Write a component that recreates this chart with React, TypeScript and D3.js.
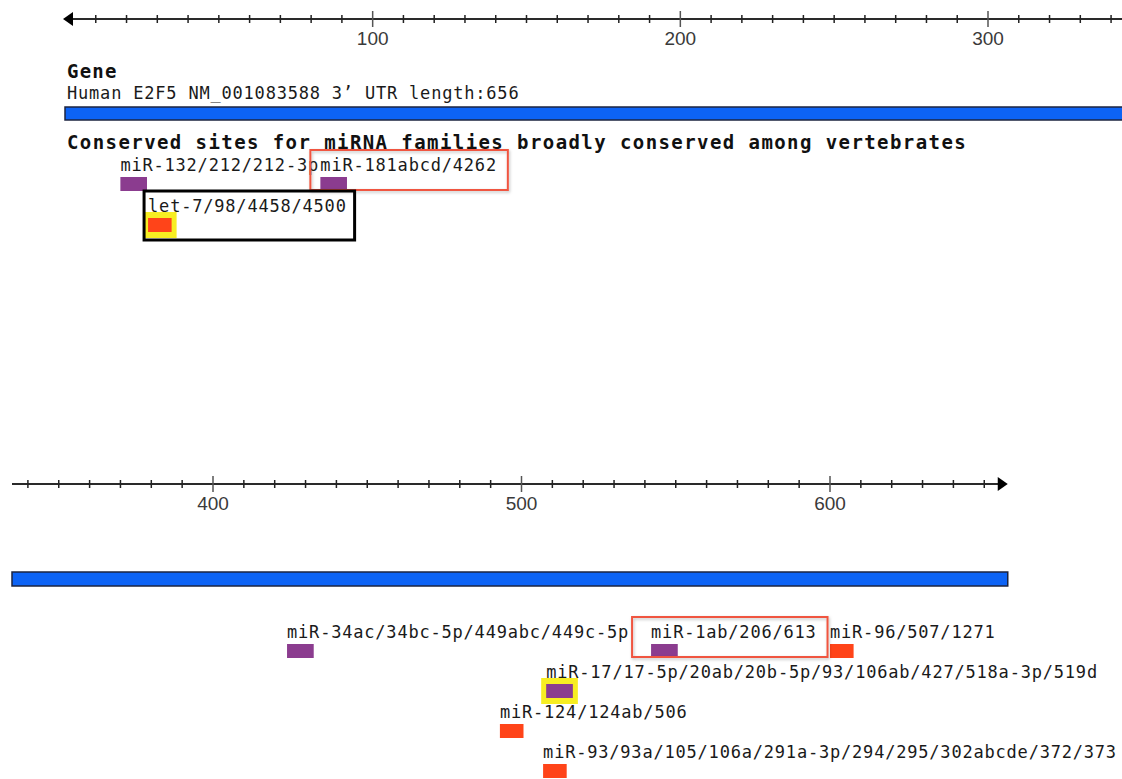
import React from 'react';
import * as d3 from 'd3';

// ---------- data ----------
const geneTitle = 'Gene';
const geneName = 'Human E2F5 NM_001083588 3’ UTR length:656';
const geneLength = 656;
const sitesHeader = 'Conserved sites for miRNA families broadly conserved among vertebrates';

const topTickLabels = [100, 200, 300];
const bottomTickLabels = [400, 500, 600];

const topSiteNames = ['miR-132/212/212-3p', 'miR-181abcd/4262', 'let-7/98/4458/4500'];
const topSitePositions = [18, 83, 27];
const topSiteTypes = ['8mer', '8mer', '7mer'];
const topSiteRows = [0, 0, 1];

const bottomSiteNames = [
  'miR-34ac/34bc-5p/449abc/449c-5p',
  'miR-1ab/206/613',
  'miR-96/507/1271',
  'miR-17/17-5p/20ab/20b-5p/93/106ab/427/518a-3p/519d',
  'miR-124/124ab/506',
  'miR-93/93a/105/106a/291a-3p/294/295/302abcde/372/373',
];
const bottomSitePositions = [424, 542, 600, 508, 493, 507];
const bottomSiteTypes = ['8mer', '8mer', '7mer', '8mer', '7mer', '7mer'];
const bottomSiteRows = [0, 0, 0, 1, 2, 3];

const siteLengths: Record<string, number> = { '8mer': 8, '7mer': 7 };

const highlightNames = ['miR-181abcd/4262', 'let-7/98/4458/4500', 'let-7/98/4458/4500', 'miR-1ab/206/613', 'miR-17/17-5p/20ab/20b-5p/93/106ab/427/518a-3p/519d'];
const highlightKinds = ['red', 'black', 'yellow', 'red', 'yellow'];

// ---------- style ----------
const siteColors: Record<string, string> = { '8mer': '#8b3c8f', '7mer': '#ff4419' };
const MONO = '"DejaVu Sans Mono", monospace';
const CHAR_W = 11.03;
const redPadLeft: Record<string, number> = { 'miR-181abcd/4262': 10, 'miR-1ab/206/613': 19 };

type Panel = {
  x: d3.ScaleLinear<number, number>;
  start: number;
  end: number;
  axisY: number;
  barY: number;
  barH: number;
  baseY: number;
  rowGap: number;
  arrow: 'left' | 'right';
  tickLabels: number[];
  names: string[];
  positions: number[];
  types: string[];
  rows: number[];
};

const W = 1122;
const H = 779;

const xTop = d3.scaleLinear().domain([0, 300]).range([65, 988]);
const xBot = d3.scaleLinear().domain([400, 600]).range([213, 830]);

const panels: Panel[] = [
  {
    x: xTop, start: 0, end: xTop.invert(W + 2), axisY: 19, barY: 107, barH: 13, baseY: 171, rowGap: 41,
    arrow: 'left', tickLabels: topTickLabels,
    names: topSiteNames, positions: topSitePositions, types: topSiteTypes, rows: topSiteRows,
  },
  {
    x: xBot, start: xBot.invert(12), end: geneLength, axisY: 484, barY: 572, barH: 14, baseY: 638, rowGap: 40,
    arrow: 'right', tickLabels: bottomTickLabels,
    names: bottomSiteNames, positions: bottomSitePositions, types: bottomSiteTypes, rows: bottomSiteRows,
  },
];

function PanelView({ p }: { p: Panel }) {
  const { x } = p;
  const x0 = x(p.start);
  const x1 = x(p.end);
  const minor = d3.range(Math.ceil(p.start / 10) * 10, p.end + 0.001, 10).filter((v) => v > 0 && v % 100 !== 0);
  const boxH = 14;
  const sites = p.names.map((name, i) => {
    const sx = x(p.positions[i]);
    const sw = x(p.positions[i] + siteLengths[p.types[i]]) - sx + 2;
    const base = p.baseY + p.rows[i] * p.rowGap;
    return { name, sx, sw, base, by: base + 6, color: siteColors[p.types[i]] };
  });
  const hl = highlightNames
    .map((n, i) => ({ n, kind: highlightKinds[i], s: sites.find((s) => s.name === n) }))
    .filter((h) => h.s);

  return (
    <g>
      {/* axis */}
      <line x1={p.arrow === 'left' ? x0 + 4 : x0} x2={p.arrow === 'right' ? x1 - 2 : x1} y1={p.axisY} y2={p.axisY} stroke="#2a2a2a" strokeWidth={2} />
      {p.arrow === 'left' ? (
        <path d={`M${x0 - 2},${p.axisY} L${x0 + 8},${p.axisY - 7} L${x0 + 8},${p.axisY + 7} Z`} fill="#000" />
      ) : (
        <path d={`M${x1 + 5},${p.axisY} L${x1 - 5},${p.axisY - 7} L${x1 - 5},${p.axisY + 7} Z`} fill="#000" />
      )}
      {minor.map((v) => (
        <line key={v} x1={x(v)} x2={x(v)} y1={p.axisY - 4} y2={p.axisY + 4} stroke="#222" strokeWidth={1.5} />
      ))}
      {p.tickLabels.map((v) => (
        <g key={v}>
          <line x1={x(v)} x2={x(v)} y1={p.axisY - 8} y2={p.axisY + 8} stroke="#555" strokeWidth={1.5} />
          <text x={x(v)} y={p.axisY + 26} textAnchor="middle" fontFamily="'Liberation Sans', Arial, sans-serif" fontSize={19} fill="#3a3a3a">
            {v}
          </text>
        </g>
      ))}
      {/* gene bar */}
      <rect x={x0} y={p.barY} width={x1 - x0 + (p.arrow === 'right' ? 5 : 0)} height={p.barH} fill="#0d63f5" stroke="#1c2440" strokeWidth={1.5} />
      {/* highlights behind */}
      {hl.filter((h) => h.kind === 'yellow').map((h, i) => (
        <rect key={'y' + i} x={h.s!.sx - 5} y={h.s!.by - 6} width={h.s!.sw + 10} height={boxH + 12} fill="#f7ee22" />
      ))}
      {/* sites */}
      {sites.map((s, i) => (
        <g key={i}>
          <text x={s.sx} y={s.base} fontFamily={MONO} fontSize={17} letterSpacing={0.8} fill="#1a1a1a">
            {s.name}
          </text>
          <rect x={s.sx} y={s.by} width={s.sw} height={boxH} fill={s.color} />
        </g>
      ))}
      {hl.filter((h) => h.kind === 'red').map((h, i) => {
        const s = h.s!;
        const left = s.sx - (redPadLeft[h.n] ?? 10);
        const right = s.sx + s.name.length * CHAR_W + 11;
        const top = s.base - 21;
        const bottom = s.by + boxH - 1;
        return (
          <rect key={'r' + i} x={left} y={top} width={right - left} height={bottom - top} fill="none" stroke="#f0553f" strokeWidth={2} filter="url(#shadow)" />
        );
      })}
      {hl.filter((h) => h.kind === 'black').map((h, i) => {
        const s = h.s!;
        const left = s.sx - 4;
        const right = s.sx + s.name.length * CHAR_W + 8;
        const top = s.base - 21;
        const bottom = s.by + boxH + 8;
        return <rect key={'b' + i} x={left} y={top} width={right - left} height={bottom - top} fill="none" stroke="#000" strokeWidth={3} />;
      })}
    </g>
  );
}

export default function App() {
  return (
    <svg width={W} height={H} viewBox={`0 0 ${W} ${H}`} style={{ position: 'absolute', left: 0, top: 0, background: '#fff' }}>
      <defs>
        <filter id="shadow" x="-10%" y="-30%" width="120%" height="160%">
          <feDropShadow dx="1" dy="1.5" stdDeviation="1.5" floodColor="#000" floodOpacity="0.25" />
        </filter>
      </defs>
      <rect width={W} height={H} fill="#fff" />
      <text x={67} y={78} fontFamily={MONO} fontWeight="bold" fontSize={19} letterSpacing={1.2} fill="#111">
        {geneTitle}
      </text>
      <text x={67} y={99} fontFamily={MONO} fontSize={17} letterSpacing={0.8} fill="#1a1a1a">
        {geneName}
      </text>
      <text x={67} y={149} fontFamily={MONO} fontWeight="bold" fontSize={19} letterSpacing={1.42} fill="#111">
        {sitesHeader}
      </text>
      {panels.map((p, i) => (
        <PanelView key={i} p={p} />
      ))}
    </svg>
  );
}
